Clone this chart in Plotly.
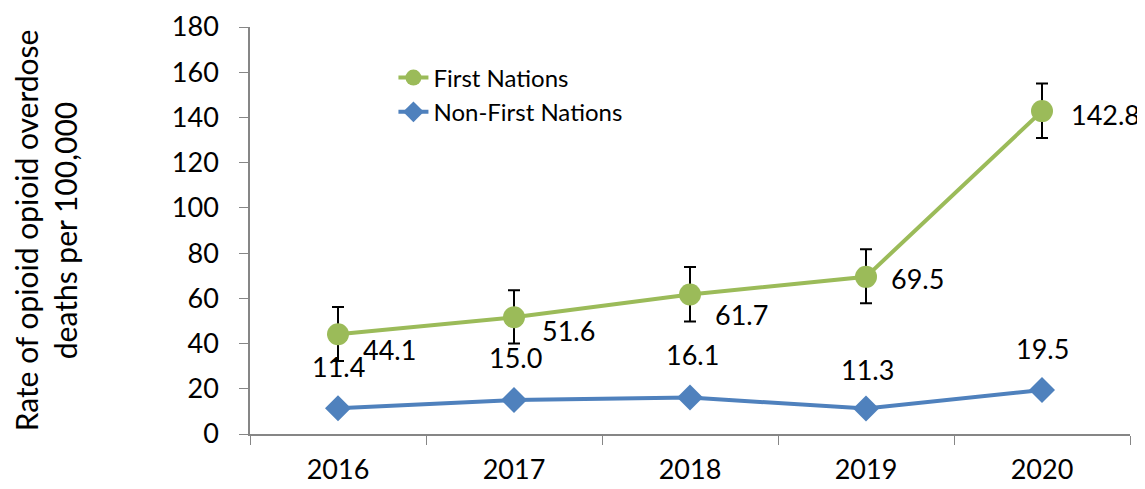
import plotly.graph_objects as go

years = ['2016', '2017', '2018', '2019', '2020']
first_nations = [44.1, 51.6, 61.7, 69.5, 142.8]
fn_err_plus = [12.1, 12.0, 12.2, 12.2, 12.2]
fn_err_minus = [11.8, 11.6, 11.9, 11.7, 11.9]
non_first_nations = [11.4, 15.0, 16.1, 11.3, 19.5]

# label offsets (px)
fn_label_shift = [(23, -15), (26, -13), (23, -20), (23, -2), (27, -3)]
nfn_label_shift = [(0, 42), (1, 43), (2, 43), (1, 39), (0, 41)]

green = '#9BBB59'
blue = '#4F81BD'
font = 'Lato, Open Sans, sans-serif'

fig = go.Figure()

fig.add_trace(go.Scatter(
    x=years, y=first_nations, name='First Nations',
    mode='lines+markers',
    line=dict(color=green, width=4),
    marker=dict(symbol='circle', size=22, color=green),
    error_y=dict(type='data', symmetric=False, array=fn_err_plus,
                 arrayminus=fn_err_minus, color='black', thickness=2, width=6),
))

fig.add_trace(go.Scatter(
    x=years, y=non_first_nations, name='Non-First Nations',
    mode='lines+markers',
    line=dict(color=blue, width=4),
    marker=dict(symbol='diamond', size=20, color=blue),
))

# data labels (category index used as x so '2016' isn't read as a number)
for i, (v, (dx, dy)) in enumerate(zip(first_nations, fn_label_shift)):
    fig.add_annotation(x=i, y=v, xref='x', yref='y', text=f'{v:.1f}',
                       showarrow=False, xanchor='left', xshift=dx, yshift=dy,
                       font=dict(size=27, color='black', family=font))

for i, (v, (dx, dy)) in enumerate(zip(non_first_nations, nfn_label_shift)):
    fig.add_annotation(x=i, y=v, xref='x', yref='y', text=f'{v:.1f}',
                       showarrow=False, xanchor='center', xshift=dx, yshift=dy,
                       font=dict(size=27, color='black', family=font))

fig.update_xaxes(
    type='category', range=[-0.5, 4.5], automargin=False,
    showline=True, linecolor='#868686', linewidth=1.5,
    ticks='outside', tickson='boundaries', ticklen=9, tickcolor='#868686',
    ticklabelstandoff=11,
    showgrid=False, tickfont=dict(size=27, color='black', family=font),
)
fig.update_yaxes(
    range=[0, 180], dtick=20, automargin=False,
    showline=True, linecolor='#868686', linewidth=1.5,
    ticks='outside', ticklen=9, tickcolor='#868686', ticklabelstandoff=15,
    showgrid=False, zeroline=False,
    tickfont=dict(size=27, color='black', family=font),
    title=dict(text='Rate of opioid opioid overdose<br>deaths per 100,000',
               font=dict(size=30, color='black', family=font), standoff=105),
)

# page body has an 8px margin, so the figure is a bit smaller than the window
fig.update_layout(
    width=1137, height=481,
    margin=dict(l=242, r=15, t=19, b=55),
    plot_bgcolor='white', paper_bgcolor='white',
    showlegend=True,
    legend=dict(x=0.163, y=0.93, xanchor='left', yanchor='top',
                font=dict(size=24, color='black', family=font),
                bgcolor='rgba(0,0,0,0)', tracegroupgap=0),
)

fig.write_html('out.html')
